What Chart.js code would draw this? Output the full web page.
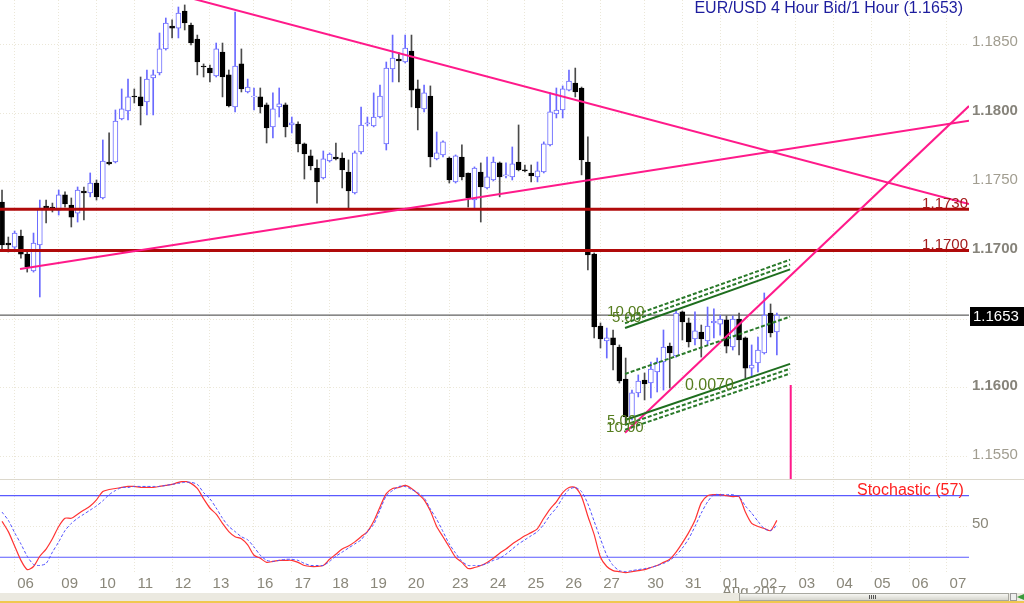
<!DOCTYPE html>
<html><head><meta charset="utf-8">
<script src="https://cdn.jsdelivr.net/npm/chart.js@4.4.1/dist/chart.umd.min.js"></script>
<style>
html,body{margin:0;padding:0;background:#fff;overflow:hidden;}
#wrap{position:relative;width:1024px;height:603px;background:#fff;}
#main{position:absolute;left:0;top:0;}
#stoch{position:absolute;left:0;top:479px;}
.sep{position:absolute;left:0;top:479px;width:1024px;height:1px;background:#dcd8cc;}
#band{position:absolute;left:0;top:593px;width:1024px;height:8px;background:#ebe9e0;}
#thumb{position:absolute;left:739px;top:593px;width:270px;height:8px;box-sizing:border-box;border:1px solid #a8a8a0;background:linear-gradient(#f6f6f2,#d6d6ce);}
#grip{position:absolute;left:869px;top:595px;width:7px;height:4px;background:repeating-linear-gradient(90deg,#555 0 1px,transparent 1px 2px);}
#btn{position:absolute;left:1010px;top:593px;width:7px;height:8px;box-sizing:border-box;border:1px solid #999;background:#eee;}
#btn2{position:absolute;left:1017px;top:594px;width:7px;height:6px;background:#3a9a3a;clip-path:polygon(0 50%,100% 0,100% 100%);}
#yel{position:absolute;left:0;top:601px;width:1024px;height:2px;background:#f0c850;}
</style></head><body>
<div id="wrap">
<canvas id="main" width="1024" height="479"></canvas>
<canvas id="stoch" width="1024" height="124"></canvas>
<div class="sep"></div>
<div id="band"></div><div id="thumb"></div><div id="grip"></div><div id="btn"></div><div id="btn2"></div>
<div id="yel"></div>
</div>
<script>
// ---------------- DATA ----------------
const opens = [1.17352,1.17054,1.17025,1.17105,1.16974,1.16851,1.17040,1.17323,1.17316,1.17294,
1.17404,1.17331,1.17272,1.17433,1.17419,1.17491,1.17382,1.17644,1.17644,1.17957,
1.18015,1.18124,1.18117,1.18080,1.18255,1.18291,1.18466,1.18633,1.18618,1.18742,
1.18640,1.18538,1.18342,1.18327,1.18269,1.18444,1.18277,1.18044,1.18357,1.18153,
1.18117,1.18117,1.18059,1.17899,1.18044,1.18059,1.17913,1.17920,1.17775,1.17688,
1.17600,1.17528,1.17651,1.17680,1.17673,1.17571,1.17419,1.17717,1.17920,1.17906,
1.17971,1.17775,1.18320,1.18393,1.18371,1.18451,1.18175,1.18030,1.18124,1.17666,
1.17695,1.17673,1.17499,1.17680,1.17564,1.17367,1.17571,1.17455,1.17513,1.17637,
1.17542,1.17535,1.17644,1.17586,1.17564,1.17535,1.17571,1.17768,1.17993,1.18022,
1.18167,1.18218,1.18182,1.17644,1.16974,1.16451,1.16342,1.16364,1.16298,1.16065,
1.15782,1.15964,1.16058,1.16036,1.16116,1.16189,1.16305,1.16233,1.16553,1.16473,
1.16356,1.16407,1.16342,1.16473,1.16465,1.16495,1.16298,1.16502,1.16364,1.16145,
1.16182,1.16255,1.16545,1.16407];
const highs = [1.17440,1.17098,1.17142,1.17149,1.17003,1.17127,1.17367,1.17367,1.17345,1.17440,
1.17426,1.17382,1.17462,1.17462,1.17564,1.17513,1.17804,1.17855,1.18022,1.18175,
1.18247,1.18175,1.18262,1.18313,1.18313,1.18582,1.18691,1.18677,1.18771,1.18786,
1.18655,1.18567,1.18357,1.18349,1.18509,1.18509,1.18313,1.18735,1.18466,1.18247,
1.18182,1.18182,1.18073,1.18146,1.18182,1.18073,1.17971,1.17935,1.17782,1.17731,
1.17659,1.17724,1.17710,1.17782,1.17710,1.17659,1.17724,1.18044,1.17971,1.18146,
1.18204,1.18371,1.18567,1.18437,1.18567,1.18567,1.18240,1.18204,1.18197,1.17862,
1.17797,1.17680,1.17695,1.17768,1.17564,1.17608,1.17637,1.17680,1.17680,1.17644,
1.17637,1.17753,1.17913,1.17622,1.17622,1.17644,1.17790,1.18146,1.18182,1.18197,
1.18313,1.18327,1.18189,1.17826,1.16982,1.16473,1.16436,1.16422,1.16313,1.16218,
1.15985,1.16095,1.16109,1.16189,1.16218,1.16422,1.16327,1.16575,1.16560,1.16509,
1.16553,1.16458,1.16589,1.16575,1.16531,1.16524,1.16524,1.16545,1.16371,1.16313,
1.16371,1.16691,1.16611,1.16545];
const lows = [1.17011,1.16989,1.17011,1.16945,1.16843,1.16843,1.16662,1.17200,1.17280,1.17258,
1.17316,1.17171,1.17207,1.17222,1.17390,1.17367,1.17375,1.17622,1.17637,1.17950,
1.17950,1.18073,1.17913,1.17986,1.17986,1.18277,1.18458,1.18546,1.18546,1.18604,
1.18495,1.18277,1.18262,1.18226,1.18262,1.18117,1.18044,1.18008,1.18153,1.18146,
1.18022,1.18000,1.17782,1.17819,1.17971,1.17826,1.17855,1.17717,1.17520,1.17586,
1.17345,1.17520,1.17644,1.17659,1.17455,1.17309,1.17411,1.17702,1.17906,1.17899,
1.17964,1.17731,1.18226,1.18226,1.18364,1.18044,1.17877,1.18008,1.17608,1.17659,
1.17680,1.17491,1.17491,1.17513,1.17316,1.17309,1.17207,1.17448,1.17506,1.17390,
1.17528,1.17513,1.17579,1.17571,1.17499,1.17499,1.17564,1.17760,1.17964,1.17964,
1.18160,1.18117,1.17550,1.16858,1.16364,1.16291,1.16218,1.16131,1.16036,1.15731,
1.15768,1.15935,1.15913,1.15927,1.15971,1.15985,1.16000,1.16225,1.16349,1.16298,
1.16313,1.16225,1.16313,1.16364,1.16385,1.16255,1.16276,1.16240,1.16073,1.16080,
1.16116,1.16247,1.16371,1.16240];
const closes = [1.17040,1.17040,1.17127,1.16974,1.16880,1.17054,1.17309,1.17309,1.17302,1.17404,
1.17338,1.17243,1.17440,1.17419,1.17491,1.17390,1.17651,1.17630,1.17942,1.18030,
1.18117,1.18117,1.18051,1.18247,1.18277,1.18466,1.18655,1.18618,1.18727,1.18655,
1.18509,1.18371,1.18335,1.18291,1.18466,1.18262,1.18051,1.18342,1.18175,1.18189,
1.18124,1.18044,1.17891,1.18030,1.18066,1.17899,1.17928,1.17775,1.17702,1.17615,
1.17499,1.17666,1.17702,1.17666,1.17586,1.17433,1.17710,1.17913,1.17928,1.17971,
1.18124,1.18327,1.18400,1.18378,1.18473,1.18167,1.18037,1.18146,1.17680,1.17710,
1.17790,1.17513,1.17688,1.17535,1.17382,1.17600,1.17462,1.17535,1.17644,1.17535,
1.17550,1.17630,1.17586,1.17579,1.17542,1.17579,1.17775,1.18008,1.18022,1.18175,
1.18233,1.18153,1.17659,1.16967,1.16444,1.16356,1.16364,1.16313,1.16051,1.15789,
1.15964,1.16051,1.16029,1.16138,1.16189,1.16298,1.16255,1.16545,1.16480,1.16335,
1.16415,1.16356,1.16451,1.16487,1.16502,1.16305,1.16502,1.16349,1.16145,1.16167,
1.16276,1.16531,1.16400,1.16530];

const kValues = [55,45,31,17,8,11,21,28,38,50, 58,58,62,66,70,76,84,86,87,88,
89,89,88,88,88,89,90,91,93,94, 92,87,77,68,62,53,45,40,38,32,
22,19,15,16,17,17,17,15,12,11, 11,12,18,23,28,31,35,40,45,55,
69,82,87,88,90,87,82,76,65,50, 40,30,20,15,9,10,12,15,19,24,
28,33,37,41,44,48,58,67,74,83, 88,88,79,60,42,20,11,7,6,5,
6,7,8,10,12,15,18,25,34,44, 56,73,80,81,81,80,79,79,64,53,
50,48,46,56];
const dValues = [64,56,44,33,21,13,12,14,25,35, 46,53,58,62,66,70,75,81,85,88,
88,89,89,89,89,89,90,91,92,93, 93,91,83,77,68,58,50,45,40,37,
30,22,17,16,17,18,18,17,14,12, 12,12,16,21,25,29,33,37,45,52,
66,80,85,89,89,86,83,78,67,57, 45,33,24,16,12,12,12,14,17,19,
23,28,33,37,41,45,52,61,68,78, 86,88,84,72,55,38,22,12,7,6,
7,8,9,10,12,14,17,22,29,38, 50,63,74,81,81,81,81,79,70,63,
55,48,46,51];

const dayTicks  = [2,9,15,21,27,33,40,46,52,58,64,71,77,83,89,95,102,108,114,120,126,132,138,144,150];
const dayLabels = ['06','09','10','11','12','13','16','17','18','19','20','23','24','25','26','27','30','31','01','02','03','04','05','06','07'];
const priceTicks = [1.1550,1.1600,1.1650,1.1700,1.1750,1.1800,1.1850];
const stochLevels = [20,80];
const stochTicks = [50];

const lastPrice = 1.1653;
const levels = [1.1730,1.1700];
const levelLabels = ['1.1730','1.1700'];
const resLineX = [30.0,153.5],  resLineY = [1.18835,1.17338];
const supLineX = [2.86,153.5],  supLineY = [1.16865,1.17944];
const steepLineX = [98.9,153.5], steepLineY = [1.15675,1.18051];
const markerX = [125.2,125.2],  markerY = [1.16022,1.15300];
const chanX = [98.9,125.1];
const chanUpper = [1.16436,1.16863];
const chanMid   = [1.16102,1.16519];
const chanLower = [1.15767,1.16175];
const chanBands = [0.00035,0.00070];
const chanBandLabels = ['5.00','10.00'];
const chanWidthLabel = '0.0070';
const chanWidthLabelX = 108.4;
const titleText = 'EUR/USD 4 Hour Bid/1 Hour (1.1653)';

// ---------------- STYLE ----------------
const FONT = '"Liberation Sans", Arial, sans-serif';
const X_MIN = -0.32, X_MAX = 153.5;
const P_MIN = 1.15338, P_MAX = 1.18822;
const UP = '#6a6aff', DOWN = '#000000', DOWNWICK = '#4a4a4a';
const PINK = '#ff1a8a', DRED = '#b00a0a', GREEN = '#1e6e1e', GREEN2 = '#2a7a2a';
const GRID = '#ebe7d8';
Chart.defaults.font.family = FONT;
Chart.defaults.animation = false;
Chart.defaults.plugins.legend.display = false;
Chart.defaults.plugins.tooltip.enabled = false;

const isUp = i => closes[i] >= opens[i];
function seg(xs, ys, color, width, dash, order){
  return {type:'line', data:[{x:xs[0],y:ys[0]},{x:xs[1],y:ys[1]}], borderColor:color, borderWidth:width,
    borderDash:dash||[], pointRadius:0, fill:false, tension:0, order:order};
}
function noPad(s){ s.paddingTop = 0; s.paddingBottom = 0; s.paddingLeft = 0; s.paddingRight = 0; }

const mainData = [
  {type:'bar', data:opens.map((o,i)=>({x:i,y:[lows[i],highs[i]]})), barThickness:1, grouped:false,
   backgroundColor:c=> (c.dataIndex!==undefined && isUp(c.dataIndex)) ? UP : DOWNWICK, borderWidth:0, order:20},
  {type:'bar', data:opens.map((o,i)=>({x:i,y:[o,closes[i]]})), barThickness:5, grouped:false,
   backgroundColor:c=> (c.dataIndex!==undefined && isUp(c.dataIndex)) ? '#ffffff' : DOWN,
   borderColor:c=> (c.dataIndex!==undefined && isUp(c.dataIndex)) ? UP : DOWN,
   borderWidth:1, borderSkipped:false, order:15},
  seg([X_MIN,X_MAX],[lastPrice,lastPrice],'#3a3a3a',1,null,30),
];
levels.forEach(l=>mainData.push(seg([X_MIN,X_MAX],[l,l],DRED,3,null,5)));
mainData.push(seg(resLineX,resLineY,PINK,2,null,4));
mainData.push(seg(supLineX,supLineY,PINK,2,null,4));
mainData.push(seg(steepLineX,steepLineY,PINK,2,null,4));
mainData.push(seg(markerX,markerY,PINK,2,null,4));
mainData.push(seg(chanX,chanUpper,GREEN,2,null,3));
mainData.push(seg(chanX,chanLower,GREEN,2,null,3));
mainData.push(seg(chanX,chanMid,GREEN2,2,[4,2],3));
chanBands.forEach(b=>{
  mainData.push(seg(chanX,[chanUpper[0]+b,chanUpper[1]+b],GREEN2,2,[4,2],3));
  mainData.push(seg(chanX,[chanLower[0]-b,chanLower[1]-b],GREEN2,2,[4,2],3));
});

const isMajor = v => Math.abs(v*100 - Math.round(v*100)) < 1e-6;

const mainOverlay = {
  id:'mainOverlay',
  afterDatasetsDraw(chart){
    const {ctx, scales:{x,y}} = chart;
    ctx.save();
    ctx.font = '15px ' + FONT; ctx.fillStyle = '#a31c1c';
    ctx.textAlign = 'right'; ctx.textBaseline = 'alphabetic';
    levels.forEach((l,k)=>ctx.fillText(levelLabels[k], x.right-1, y.getPixelForValue(l)-1));
    ctx.fillStyle = '#557d1e'; ctx.textAlign = 'left'; ctx.textBaseline = 'middle';
    const px0 = x.getPixelForValue(chanX[0]);
    const upOff = [[-13,-5],[-18,-7]], loOff = [[-18,-4],[-19,-2]];
    chanBands.forEach((b,k)=>{
      ctx.fillText(chanBandLabels[k], px0+upOff[k][0], y.getPixelForValue(chanUpper[0]+b)+upOff[k][1]);
      ctx.fillText(chanBandLabels[k], px0+loOff[k][0], y.getPixelForValue(chanLower[0]-b)+loOff[k][1]);
    });
    const t = (chanWidthLabelX-chanX[0])/(chanX[1]-chanX[0]);
    const ly = chanLower[0] + t*(chanLower[1]-chanLower[0]);
    ctx.font = '16px ' + FONT;
    ctx.fillText(chanWidthLabel, x.getPixelForValue(chanWidthLabelX), y.getPixelForValue(ly)-14);
    ctx.restore();
  },
  afterDraw(chart){
    const {ctx, scales:{x,y}} = chart;
    ctx.save();
    ctx.font = '16px ' + FONT; ctx.fillStyle = '#1d1d9e';
    ctx.textAlign = 'right'; ctx.textBaseline = 'middle';
    ctx.fillText(titleText, x.right-6, 9);
    const cy = y.getPixelForValue(lastPrice) + 1;
    ctx.fillStyle = '#000';
    ctx.fillRect(x.right+1, Math.round(cy-9.5), 1024-x.right-1, 19);
    ctx.fillStyle = '#fff'; ctx.textAlign = 'left'; ctx.font = '15px ' + FONT;
    ctx.fillText(lastPrice.toFixed(4), x.right+4, cy+0.5);
    ctx.restore();
  }
};

new Chart(document.getElementById('main'), {
  type:'bar',
  data:{datasets:mainData},
  options:{
    responsive:false, devicePixelRatio:1, layout:{padding:0},
    scales:{
      x:{type:'linear', min:X_MIN, max:X_MAX, offset:false,
         grid:{color:GRID, lineWidth:1, drawTicks:false, offset:false},
         border:{display:false, dash:[1,2]},
         ticks:{display:false},
         afterBuildTicks:s=>{ s.ticks = dayTicks.map(v=>({value:v})); },
         afterFit:s=>{ s.height = 0; noPad(s); }},
      y:{type:'linear', position:'right', min:P_MIN, max:P_MAX,
         grid:{color:GRID, lineWidth:1, drawTicks:false},
         border:{display:false, dash:[1,2]},
         afterBuildTicks:s=>{ s.ticks = priceTicks.map(v=>({value:v})); },
         afterFit:s=>{ s.width = 55; noPad(s); },
         ticks:{padding:3, labelOffset:-2, callback:v=>Number(v).toFixed(4),
           font:c=>({size:15, family:FONT, weight:(c.tick && isMajor(c.tick.value)) ? 'bold' : 'normal'}),
           color:c=>(c.tick && isMajor(c.tick.value)) ? '#86837a' : '#a19d90'}}
    }
  },
  plugins:[mainOverlay]
});

// ---------------- STOCHASTIC ----------------
const stochOverlay = {
  id:'stochOverlay',
  afterDraw(chart){
    const {ctx} = chart;
    ctx.save();
    ctx.font = '16px ' + FONT; ctx.fillStyle = '#ff2020';
    ctx.textAlign = 'left'; ctx.textBaseline = 'middle';
    ctx.fillText('Stochastic (57)', 857, 12);
    ctx.font = '15px ' + FONT; ctx.fillStyle = '#8a877a'; ctx.textBaseline = 'alphabetic';
    ctx.fillText('Aug 2017', 722, 117);
    ctx.restore();
  }
};
const stochData = [
  {data:kValues.map((v,i)=>({x:i,y:v})), borderColor:'#ff3333', borderWidth:1.2, pointRadius:0, tension:0.25, fill:false, order:2},
  {data:dValues.map((v,i)=>({x:i,y:v})), borderColor:'#5252ff', borderWidth:1, borderDash:[3,2], pointRadius:0, tension:0.25, fill:false, order:1},
];
stochLevels.forEach(l=>stochData.push(seg([X_MIN,X_MAX],[l,l],'#5a5aff',1.2,null,5)));

new Chart(document.getElementById('stoch'), {
  type:'line',
  data:{datasets:stochData},
  options:{
    responsive:false, devicePixelRatio:1, layout:{padding:{top:2}},
    scales:{
      x:{type:'linear', min:X_MIN, max:X_MAX, offset:false,
         grid:{color:GRID, lineWidth:1, drawTicks:false},
         border:{display:false, dash:[1,2]},
         afterBuildTicks:s=>{ s.ticks = dayTicks.map(v=>({value:v})); },
         afterFit:s=>{ s.height = 29; noPad(s); },
         ticks:{padding:1, labelOffset:11, autoSkip:false, maxRotation:0, minRotation:0,
           font:{size:15, family:FONT}, color:'#8a877a', callback:(v,i)=>dayLabels[i]}},
      y:{type:'linear', position:'right', min:3.7, max:94.3,
         grid:{color:GRID, lineWidth:1, drawTicks:false},
         border:{display:false, dash:[1,2]},
         afterBuildTicks:s=>{ s.ticks = stochTicks.map(v=>({value:v})); },
         afterFit:s=>{ s.width = 55; noPad(s); },
         ticks:{padding:3, labelOffset:-3, font:{size:15, family:FONT}, color:'#8a877a', callback:v=>String(v)}}
    }
  },
  plugins:[stochOverlay]
});
</script>
</body></html>
